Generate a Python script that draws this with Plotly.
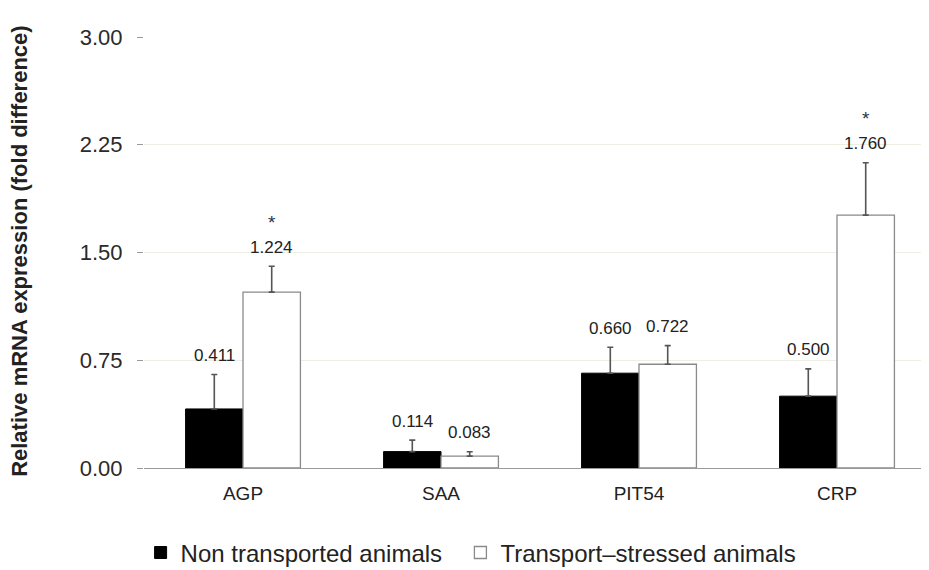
import plotly.graph_objects as go

categories = ["AGP", "SAA", "PIT54", "CRP"]
non_transported = [0.411, 0.114, 0.660, 0.500]
non_transported_err = [0.24, 0.08, 0.18, 0.19]
transport_stressed = [1.224, 0.083, 0.722, 1.760]
transport_stressed_err = [0.18, 0.03, 0.13, 0.365]
significant_stressed = [True, False, False, True]
y_ticks = [0.0, 0.75, 1.50, 2.25, 3.00]
y_tick_labels = ["0.00", "0.75", "1.50", "2.25", "3.00"]

FONT = "Liberation Sans, Arial, sans-serif"

fig = go.Figure()
fig.add_trace(go.Bar(
    name="Non transported animals\u00a0\u00a0", x=categories, y=non_transported,
    marker=dict(color="black", line=dict(color="black", width=1)),
    error_y=dict(type="data", array=non_transported_err, arrayminus=[0]*4, symmetric=False,
                 color="#555555", thickness=1.6, width=3),
))
fig.add_trace(go.Bar(
    name="Transport\u2013stressed animals", x=categories, y=transport_stressed,
    marker=dict(color="white", line=dict(color="#8a8a8a", width=1.3)),
    error_y=dict(type="data", array=transport_stressed_err, arrayminus=[0]*4, symmetric=False,
                 color="#555555", thickness=1.6, width=3),
))

annotations = []
for i, c in enumerate(categories):
    for off, vals, errs in [(-0.145, non_transported, non_transported_err),
                            (0.145, transport_stressed, transport_stressed_err)]:
        annotations.append(dict(
            x=i + off, y=vals[i] + errs[i], xref="x", yref="y",
            text=f"{vals[i]:.3f}", showarrow=False, yshift=19,
            font=dict(family=FONT, size=17, color="#222222")))
    if significant_stressed[i]:
        annotations.append(dict(
            x=i + 0.145, y=transport_stressed[i] + transport_stressed_err[i], xref="x", yref="y",
            text="*", showarrow=False, yshift=44,
            font=dict(family=FONT, size=19, color="#2a3350")))

annotations.append(dict(
    x=-0.157, y=0.503, xref="paper", yref="paper", textangle=-90,
    text="<b>Relative mRNA expression (fold difference)</b>", showarrow=False,
    xanchor="center", yanchor="middle",
    font=dict(family=FONT, size=22, color="#222222")))

fig.update_layout(
    width=929, height=570,
    margin=dict(l=136, r=1, t=29, b=110),
    paper_bgcolor="white", plot_bgcolor="white",
    barmode="group", bargap=0.42, bargroupgap=0,
    font=dict(family=FONT, size=18, color="#222222"),
    xaxis=dict(showline=True, linecolor="#9a9a9a", linewidth=1.2, ticks="",
               tickfont=dict(family=FONT, size=19, color="#222222"), range=[-0.5, 3.5],
               ticklabelstandoff=8, automargin=False),
    yaxis=dict(range=[0, 3.0], tickvals=y_ticks, ticktext=y_tick_labels,
               showgrid=True, gridcolor="#efeee3", gridwidth=1,
               ticks="outside", ticklen=6, tickcolor="#9a9a9a", zeroline=False,
               showline=False, ticklabelstandoff=10,
               tickfont=dict(family=FONT, size=22, color="#2a2a2a"), automargin=False),
    legend=dict(orientation="h", x=0.413, xanchor="center", y=-0.197, yanchor="middle",
                font=dict(family=FONT, size=24, color="#222222"), traceorder="normal",
                itemwidth=30),
    annotations=annotations,
    showlegend=True,
)

fig.write_html("out.html")
